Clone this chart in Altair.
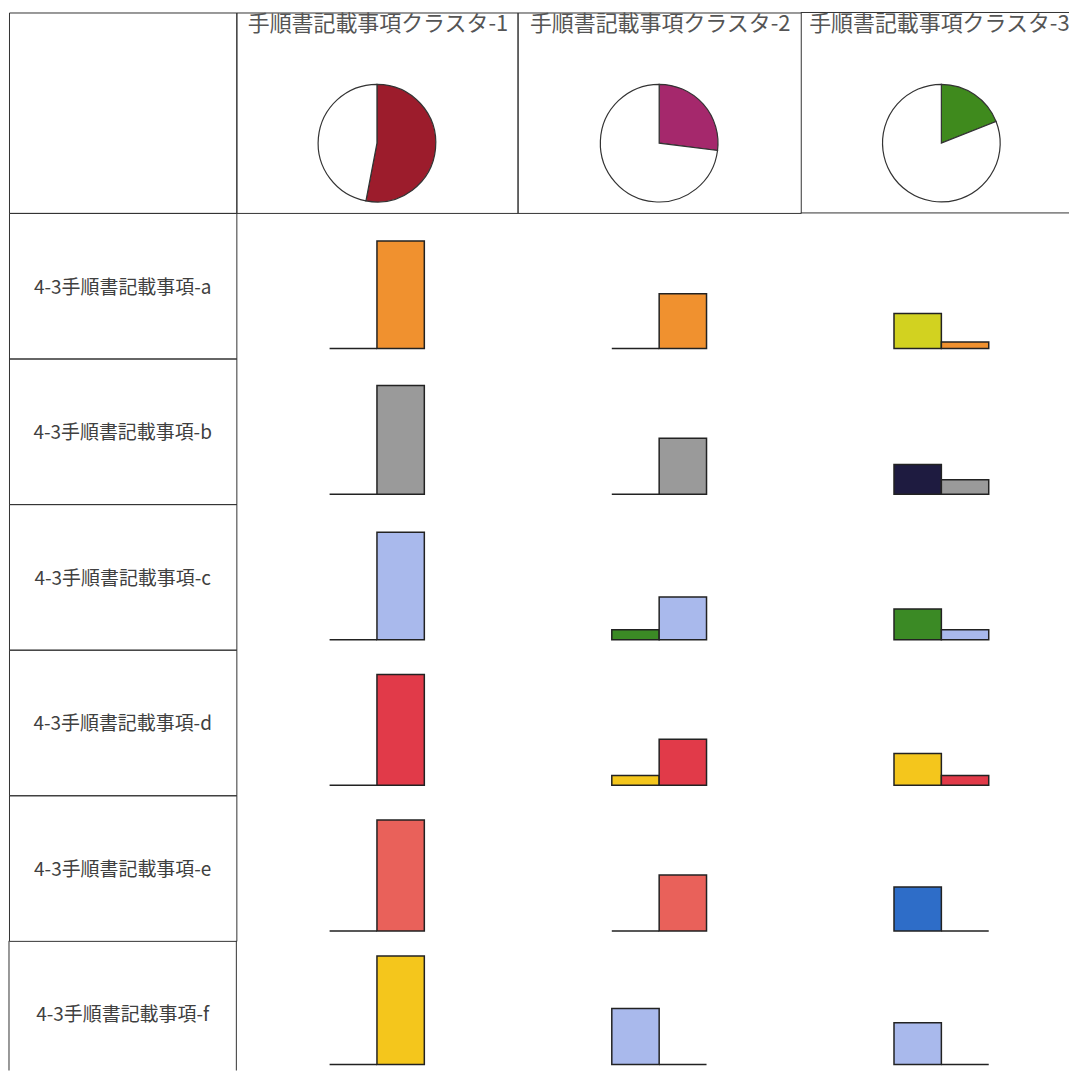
import altair as alt
import pandas as pd

# ---- data ----
clusters = ["手順書記載事項クラスタ-1", "手順書記載事項クラスタ-2", "手順書記載事項クラスタ-3"]
cluster_share = [0.53, 0.27, 0.19]
cluster_colors = ["#9C1C2C", "#A5286C", "#3F8A1D"]

items = [
    "4-3手順書記載事項-a",
    "4-3手順書記載事項-b",
    "4-3手順書記載事項-c",
    "4-3手順書記載事項-d",
    "4-3手順書記載事項-e",
    "4-3手順書記載事項-f",
]
# per item row: values for [cluster-1, cluster-2, cluster-3]
left_values = [
    [0, 0, 32],
    [0, 0, 27],
    [0, 9, 28],
    [0, 9, 29],
    [0, 0, 40],
    [0, 51, 38],
]
right_values = [
    [98, 50, 6],
    [99, 51, 13],
    [98, 39, 9],
    [101, 42, 9],
    [101, 51, 0],
    [99, 0, 0],
]
left_colors = ["#D2D220", "#1E1B40", "#3B8A25", "#F4C61C", "#2E6DC8", "#A9B9EC"]
right_colors = ["#F0912F", "#9A9A9A", "#A9B9EC", "#E13A49", "#E9615A", "#F4C61C"]

# ---- layout ----
FONT = "Noto Sans CJK JP"
LABEL_W = 228
COL_W = [282, 284, 269]
COL_CX = [141, 142, 141]
TITLE_CX = [142, 143, 139]
HEADER_H = 201
ROW_H = [146, 146, 146, 146, 146, 130]
BASE_GAP = [10, 10, 10, 10, 10, 6]
LABEL_Y = [75, 75, 75, 75, 75, 74]
BORDER = "#333333"
BAR_W = 47.5
PX_PER_UNIT = 1.1


def bordered():
    return alt.ViewBackground(stroke=BORDER, strokeWidth=1)


def no_border():
    return alt.ViewBackground(stroke="transparent")


def hline(y, w):
    return alt.Chart(pd.DataFrame({"k": [0]})).mark_rule(color=BORDER, strokeWidth=1).encode(
        x=alt.value(0), x2=alt.value(w), y=alt.value(y)
    )


def vline(x, h):
    return alt.Chart(pd.DataFrame({"k": [0]})).mark_rule(color=BORDER, strokeWidth=1).encode(
        x=alt.value(x), y=alt.value(0), y2=alt.value(h)
    )


cells = []

# header row: empty corner cell
blank = alt.Chart(pd.DataFrame({"t": [""]})).mark_text(baseline="middle").encode(
    text="t:N", x=alt.value(LABEL_W / 2), y=alt.value(HEADER_H / 2)
).properties(width=LABEL_W, height=HEADER_H, view=bordered())
cells.append(blank)

for i, name in enumerate(clusters):
    w = COL_W[i]
    cx = COL_CX[i]
    df = pd.DataFrame({
        "part": ["cluster", "rest"],
        "share": [cluster_share[i], 1 - cluster_share[i]],
        "fill": [cluster_colors[i], "#FFFFFF"],
        "k": [0, 1],
    })
    arc = alt.Chart(df).mark_arc(radius=59, stroke="#333333", strokeWidth=1.2).encode(
        theta=alt.Theta("share:Q", stack=True),
        order=alt.Order("k:Q"),
        fill=alt.Fill("fill:N", scale=None),
        x=alt.value(cx),
        y=alt.value(131),
    )
    title = alt.Chart(pd.DataFrame({"t": [name]})).mark_text(
        font=FONT, fontSize=22, color="#555555", baseline="middle"
    ).encode(text="t:N", x=alt.value(TITLE_CX[i]), y=alt.value(12))
    if i < 2:
        cells.append(alt.layer(arc, title).properties(width=w, height=HEADER_H, view=bordered()))
    else:
        # last column is cut off at the right edge: no right border
        cells.append(
            alt.layer(hline(0, w), hline(HEADER_H, w), arc, title).properties(
                width=w, height=HEADER_H, view=no_border()
            )
        )

for r, item in enumerate(items):
    h = ROW_H[r]
    text = alt.Chart(pd.DataFrame({"t": [item]})).mark_text(
        font=FONT, fontSize=19, color="#404040", baseline="middle"
    ).encode(text="t:N", x=alt.value(LABEL_W / 2), y=alt.value(LABEL_Y[r]))
    if r < len(items) - 1:
        label = text.properties(width=LABEL_W, height=h, view=bordered())
    else:
        # last row is cut off at the bottom edge: no bottom border
        label = alt.layer(vline(0, h), vline(LABEL_W, h), text).properties(
            width=LABEL_W, height=h, view=no_border()
        )
    cells.append(label)
    d0 = -BASE_GAP[r] / PX_PER_UNIT
    d1 = d0 + h / PX_PER_UNIT
    for c in range(3):
        w = COL_W[c]
        cx = COL_CX[c]
        df = pd.DataFrame({
            "slot": ["L", "R"],
            "value": [left_values[r][c], right_values[r][c]],
            "fill": [left_colors[r], right_colors[r]],
        })
        bars = alt.Chart(df).mark_bar(stroke="#222222", strokeWidth=1.5).encode(
            x=alt.X("slot:N", axis=None,
                    scale=alt.Scale(domain=["L", "R"], paddingInner=0, paddingOuter=0,
                                    range=[cx - BAR_W, cx + BAR_W])),
            y=alt.Y("value:Q", axis=None,
                    scale=alt.Scale(domain=[d0, d1], nice=False, zero=False)),
            y2=alt.datum(0),
            fill=alt.Fill("fill:N", scale=None),
        ).properties(width=w, height=h, view=no_border())
        cells.append(bars)

chart = alt.concat(*cells, columns=4, spacing=0, bounds="flush", align="each").properties(
    padding={"top": 2, "left": 0, "right": 0, "bottom": 0},
).configure_view(stroke="transparent")

chart.save("out.html", embed_options={"renderer": "svg", "actions": False})
